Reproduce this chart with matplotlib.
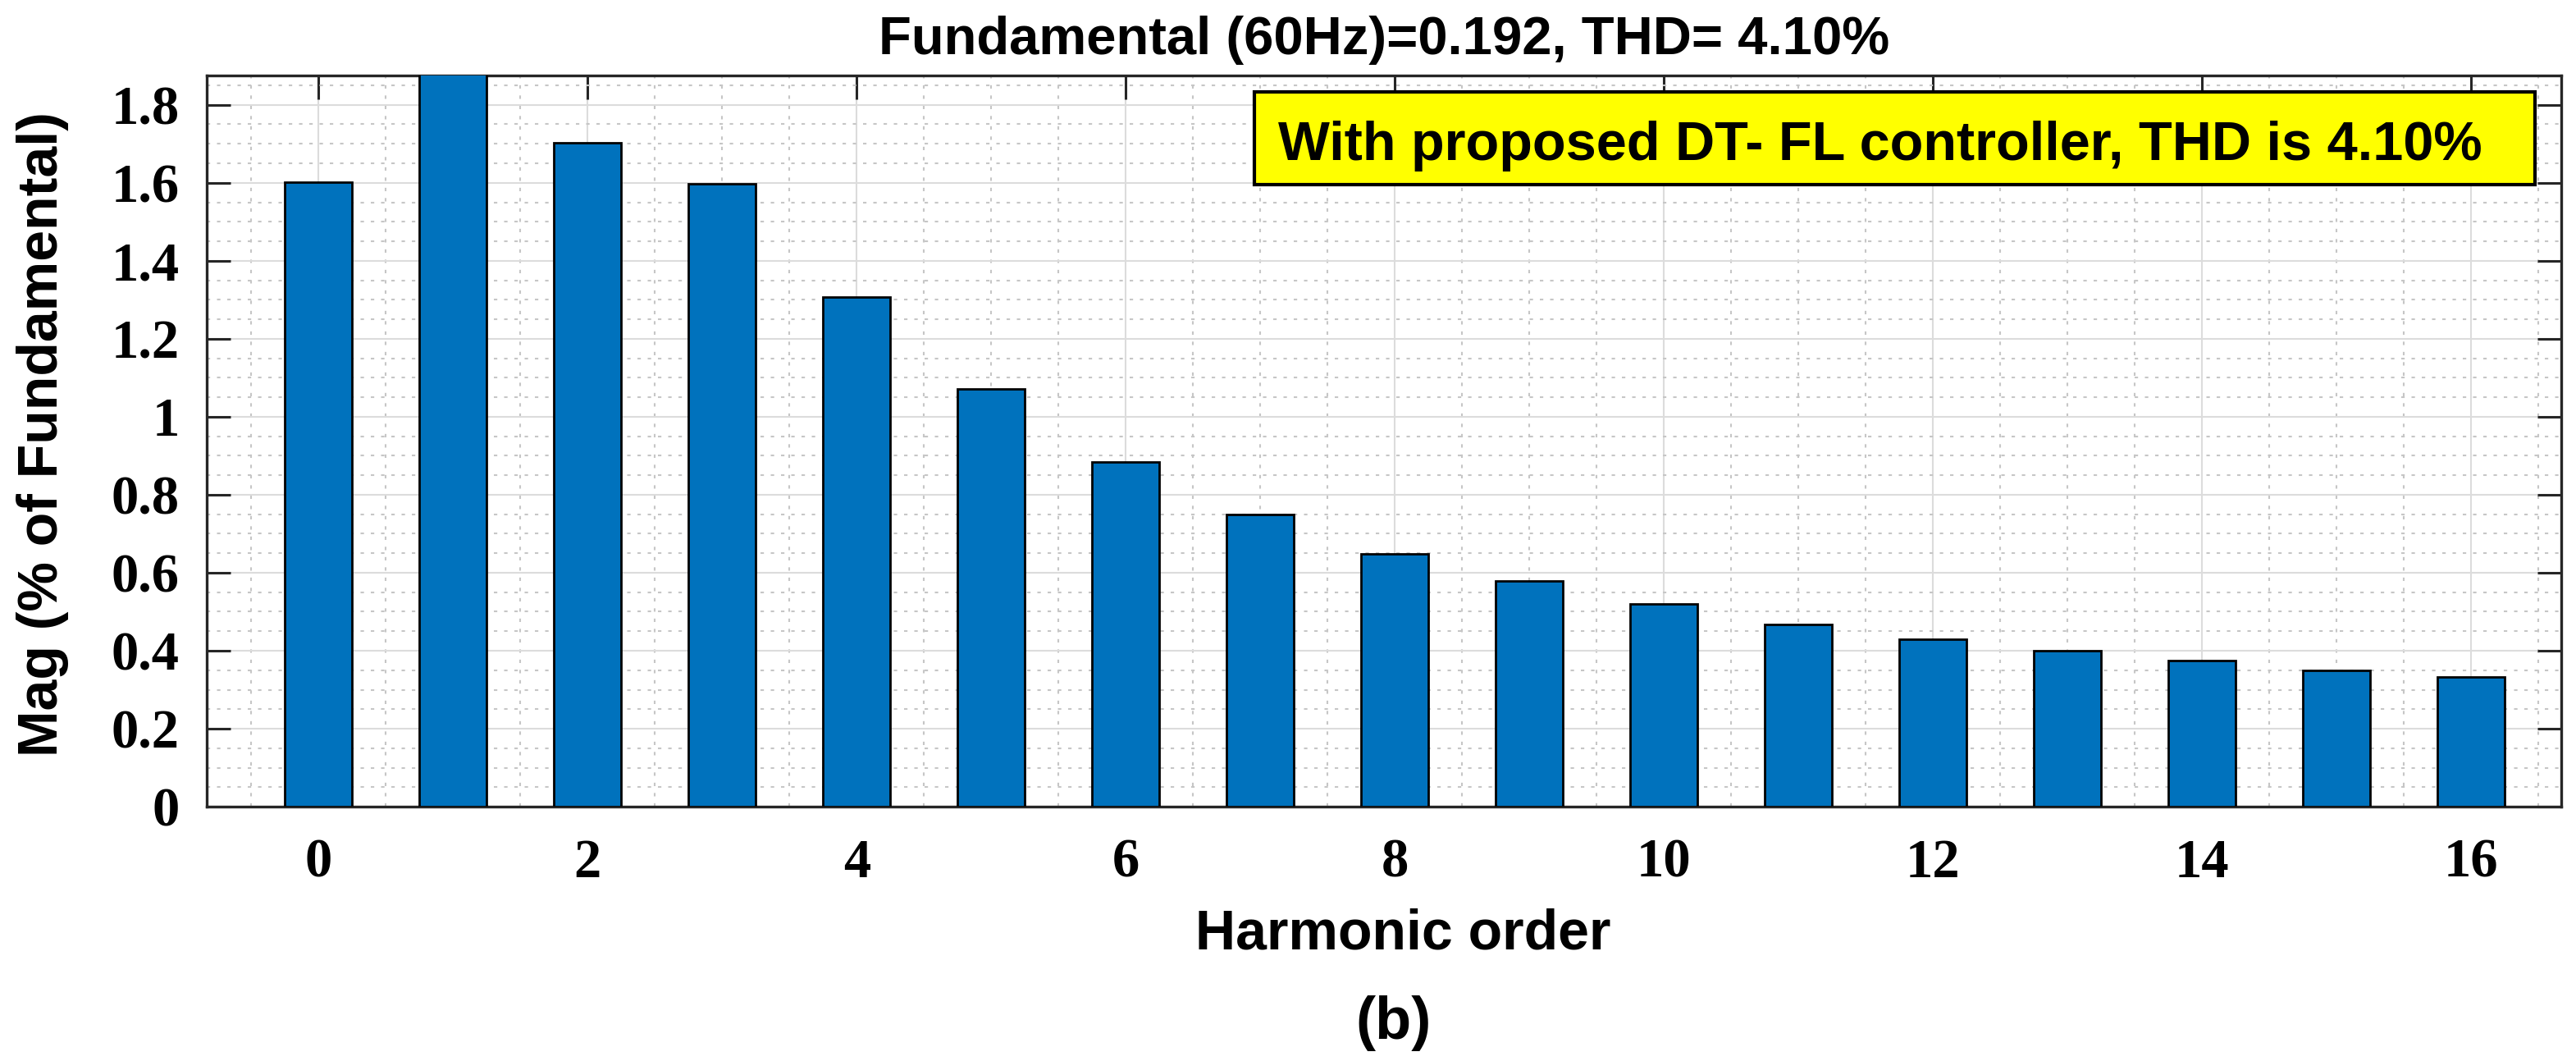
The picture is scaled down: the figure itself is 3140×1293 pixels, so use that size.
import matplotlib.pyplot as plt
import numpy as np
from matplotlib.patches import Rectangle
from matplotlib.ticker import MultipleLocator

# harmonic spectrum (bar 1 = fundamental at 100 %, clipped by the y limit)
harmonic_order = np.arange(0, 17)
mag_percent = [1.602, 100.0, 1.703, 1.598, 1.307, 1.071, 0.885, 0.750, 0.649,
               0.578, 0.519, 0.468, 0.430, 0.400, 0.375, 0.350, 0.333]

x_ticks = [0, 2, 4, 6, 8, 10, 12, 14, 16]
y_ticks = [0, 0.2, 0.4, 0.6, 0.8, 1.0, 1.2, 1.4, 1.6, 1.8]
y_tick_labels = ["0", "0.2", "0.4", "0.6", "0.8", "1", "1.2", "1.4", "1.6", "1.8"]

title_text = "Fundamental (60Hz)=0.192, THD= 4.10%"
box_text = "With proposed DT- FL controller, THD is 4.10%"

sans = ["Liberation Sans", "DejaVu Sans"]
serif = ["Liberation Serif", "DejaVu Serif"]

fig = plt.figure(figsize=(31.4, 12.93), dpi=100)
ax = fig.add_axes([0.0803, 0.2397, 0.9140, 0.6891])

ax.set_axisbelow(True)
ax.bar(harmonic_order, mag_percent, width=0.5, color="#0072BD",
       edgecolor="black", linewidth=2, zorder=3)

ax.set_xlim(-0.83, 16.67)
ax.set_ylim(0, 1.875)

ax.set_xticks(x_ticks)
ax.set_xticklabels([str(t) for t in x_ticks])
ax.set_yticks(y_ticks)
ax.set_yticklabels(y_tick_labels)
ax.xaxis.set_minor_locator(MultipleLocator(0.5))
ax.yaxis.set_minor_locator(MultipleLocator(0.05))

for lab in ax.get_xticklabels() + ax.get_yticklabels():
    lab.set_family(serif)
    lab.set_fontweight("bold")
    lab.set_fontsize(48)

ax.tick_params(which="major", direction="in", length=21, width=2.2,
               color="#262626", top=True, right=True)
ax.tick_params(axis="x", which="major", pad=28)
ax.tick_params(axis="y", which="major", pad=24)
ax.tick_params(which="minor", length=0)

ax.grid(which="major", color="#dcdcdc", linewidth=1.5, linestyle="-")
ax.grid(which="minor", color="#c6c6c6", linewidth=1.5, linestyle=(0, (2, 4)))

for sp in ax.spines.values():
    sp.set_color("#262626")
    sp.set_linewidth(2.4)

ax.set_xlabel("Harmonic order", family=sans, fontweight="bold", fontsize=49)
ax.xaxis.set_label_coords(0.508, -0.139)
ax.set_ylabel("Mag (% of Fundamental)", family=sans, fontweight="bold", fontsize=49)
ax.yaxis.set_label_coords(-0.0585, 0.51)
ax.set_title(title_text, family=sans, fontweight="bold", fontsize=47, pad=19)

# yellow annotation box
ax.add_patch(Rectangle((0.445, 0.8507), 0.5439, 0.1269, transform=ax.transAxes,
                       facecolor="#ffff00", edgecolor="black", linewidth=3,
                       zorder=5, clip_on=False))
ax.text(0.4551, 0.8844, box_text, transform=ax.transAxes, ha="left", va="baseline",
        family=sans, fontweight="bold", fontsize=48, zorder=6)

fig.text(0.541, 0.0356, "(b)", ha="center", va="center", family=sans,
         fontweight="bold", fontsize=52)

fig.savefig("out.png", dpi=100)
